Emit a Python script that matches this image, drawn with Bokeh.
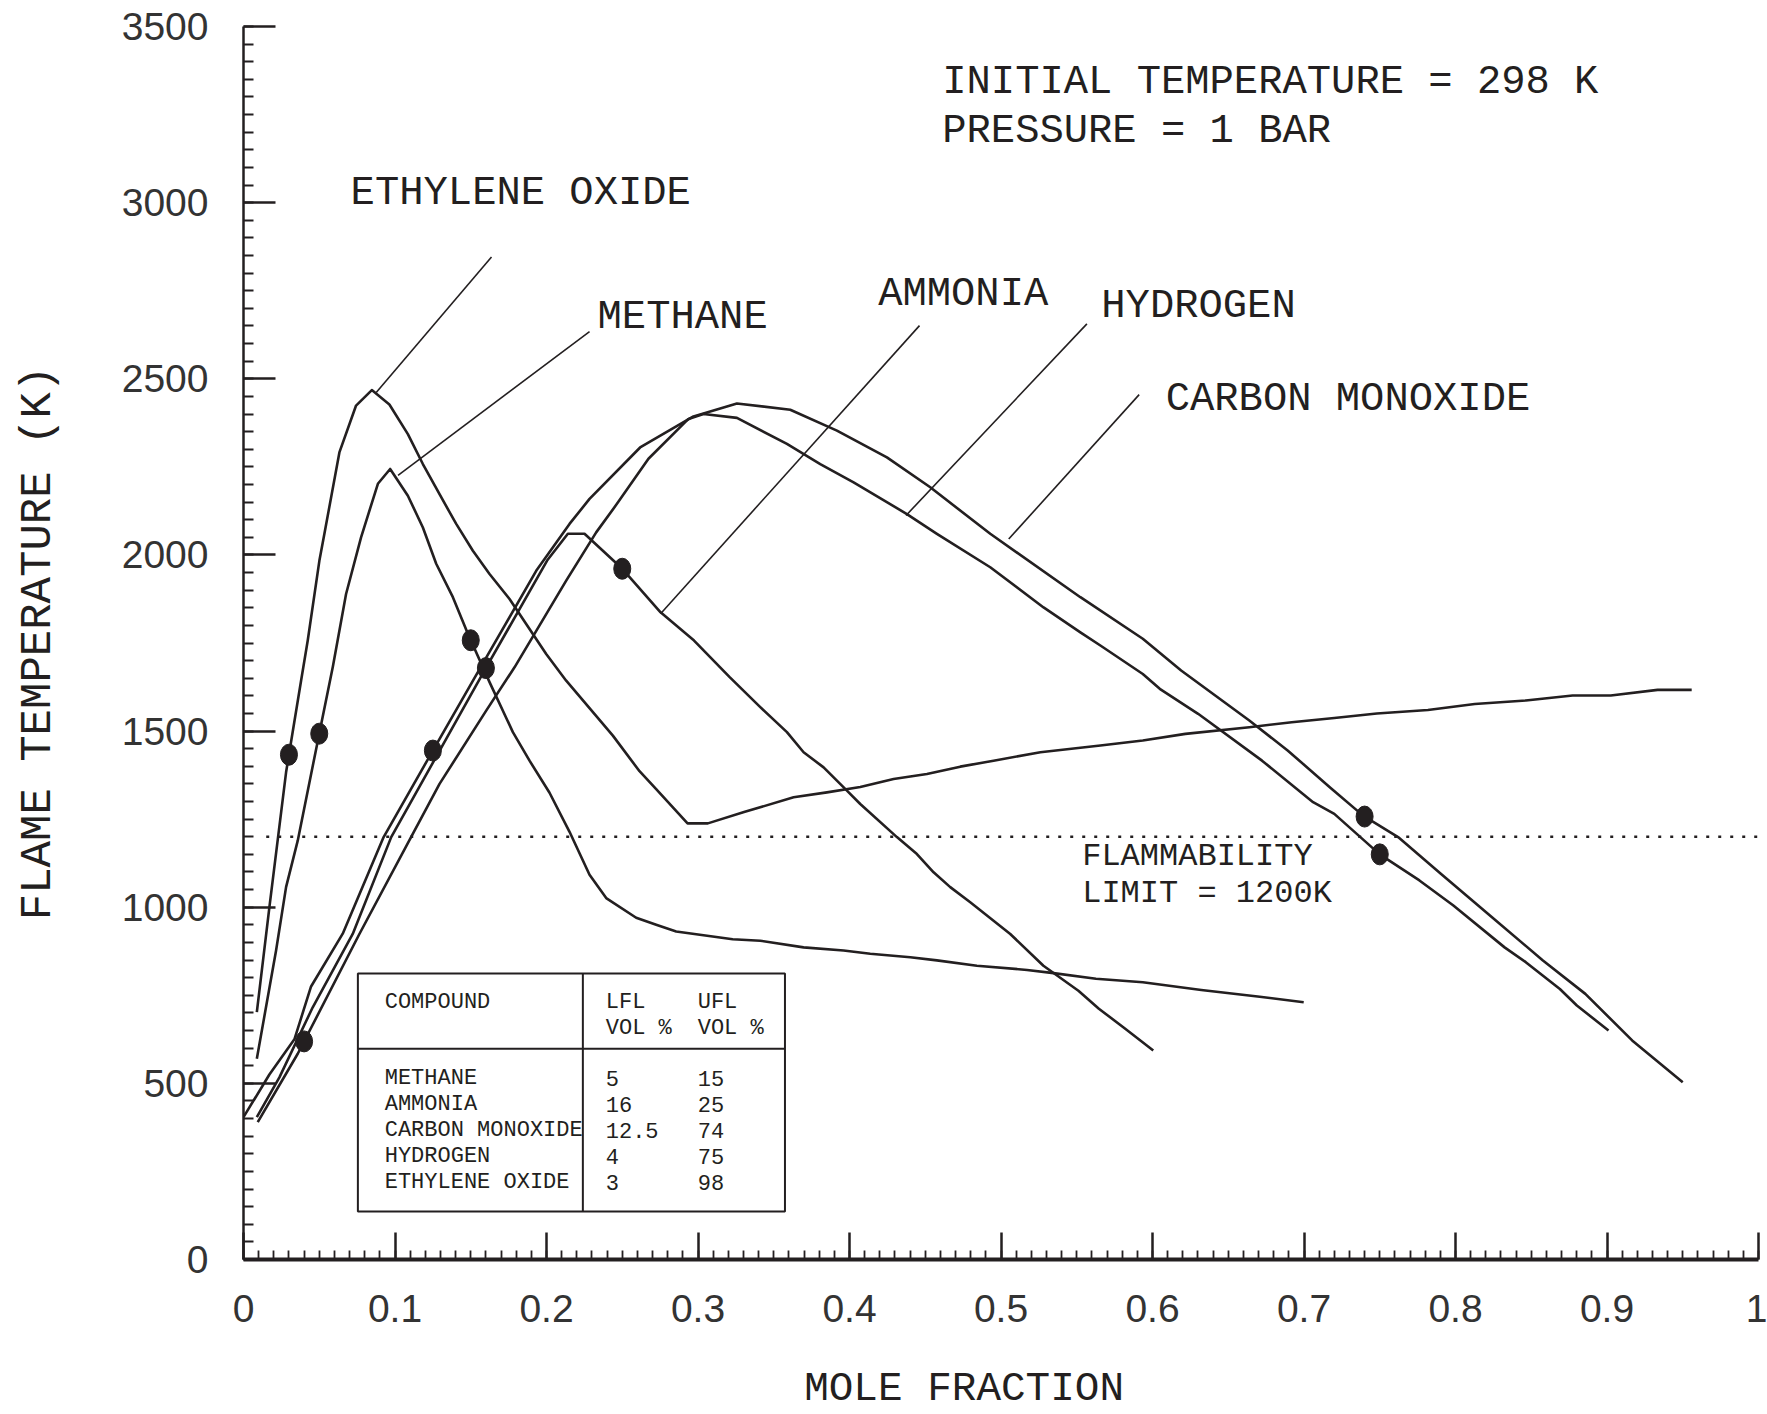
import numpy as np
from bokeh.plotting import figure
from bokeh.models import Range1d, FixedTicker, Label
from bokeh.embed import file_html
from bokeh.resources import INLINE

# ---------------- data ----------------
# mole fraction (x) and adiabatic flame temperature in K (t)
methane_x = [0.0088, 0.0215, 0.0281, 0.0358, 0.0495, 0.0590, 0.0677, 0.0776, 0.0887, 0.0968,
             0.1085, 0.1184, 0.1272, 0.1382, 0.1481, 0.1624, 0.1778, 0.1888, 0.2020, 0.2152,
             0.2284, 0.2394, 0.2592, 0.2724, 0.2856, 0.3229, 0.3411, 0.3697, 0.3961, 0.4137,
             0.4401, 0.4577, 0.4841, 0.5172, 0.5347, 0.5627, 0.5936, 0.6322, 0.6708, 0.6998]
methane_t = [570, 877, 1057, 1189, 1482, 1683, 1889, 2050, 2202, 2244,
             2168, 2078, 1975, 1880, 1776, 1639, 1497, 1416, 1325, 1214,
             1092, 1026, 970, 950, 931, 909, 905, 886, 877, 868,
             858, 849, 834, 822, 813, 797, 787, 765, 746, 730]

ammonia_x = [0.0088, 0.0237, 0.0457, 0.0721, 0.0975, 0.1591, 0.2004, 0.2141, 0.2251, 0.2502,
             0.2753, 0.2974, 0.3209, 0.3411, 0.3587, 0.3697, 0.3829, 0.3983, 0.4071, 0.4313,
             0.4445, 0.4555, 0.4665, 0.4797, 0.5061, 0.5280, 0.5511, 0.5646, 0.5820, 0.6005]
ammonia_t = [404, 517, 716, 924, 1199, 1672, 1984, 2060, 2060, 1960,
             1837, 1757, 1653, 1568, 1497, 1440, 1397, 1331, 1293, 1199,
             1151, 1099, 1057, 1014, 924, 834, 763, 712, 655, 593]

co_x = [0.0000, 0.0171, 0.0336, 0.0446, 0.0655, 0.0925, 0.1265, 0.1580, 0.1932, 0.2152,
        0.2284, 0.2618, 0.2970, 0.3257, 0.3609, 0.3917, 0.4247, 0.4533, 0.4929, 0.5524,
        0.5936, 0.6189, 0.6639, 0.6892, 0.7172, 0.7390, 0.7621, 0.7903, 0.8239, 0.8577,
        0.8857, 0.9166, 0.9500]
co_t = [404, 525, 625, 775, 925, 1199, 1456, 1692, 1955, 2088,
        2159, 2305, 2393, 2430, 2412, 2353, 2277, 2192, 2060, 1880,
        1762, 1672, 1530, 1445, 1340, 1260, 1199, 1095, 972, 849,
        754, 622, 503]

hydrogen_x = [0.0094, 0.0358, 0.0765, 0.1106, 0.1294, 0.1602, 0.1789, 0.2130, 0.2328, 0.2465,
              0.2673, 0.2937, 0.3036, 0.3257, 0.3587, 0.3807, 0.4027, 0.4379, 0.4577, 0.4929,
              0.5281, 0.5524, 0.5656, 0.5936, 0.6048, 0.6301, 0.6723, 0.7060, 0.7200, 0.7500,
              0.7762, 0.7986, 0.8324, 0.8464, 0.8689, 0.8801, 0.9010]
hydrogen_t = [390, 584, 924, 1199, 1350, 1558, 1681, 1927, 2064, 2145,
              2273, 2386, 2400, 2389, 2315, 2258, 2206, 2116, 2060, 1965,
              1851, 1780, 1743, 1662, 1620, 1549, 1416, 1298, 1265, 1150,
              1076, 1005, 886, 844, 768, 721, 650]

eo_x = [0.0088, 0.0171, 0.0281, 0.0380, 0.0424, 0.0501, 0.0534, 0.0633, 0.0743, 0.0847,
        0.0963, 0.1085, 0.1184, 0.1293, 0.1404, 0.1514, 0.1624, 0.1756, 0.1866, 0.1998,
        0.2130, 0.2438, 0.2614, 0.2724, 0.2931, 0.3065, 0.3304, 0.3631, 0.3851, 0.4071,
        0.4291, 0.4511, 0.4731, 0.4951, 0.5260, 0.5656, 0.5936, 0.6217, 0.6639, 0.6919,
        0.7200, 0.7481, 0.7818, 0.8127, 0.8464, 0.8773, 0.9025, 0.9334, 0.9559]
eo_t = [702, 1000, 1383, 1643, 1757, 1984, 2060, 2291, 2424, 2468,
        2427, 2343, 2258, 2173, 2088, 2012, 1946, 1875, 1804, 1719,
        1643, 1487, 1386, 1335, 1238, 1238, 1270, 1312, 1326, 1341,
        1364, 1378, 1399, 1416, 1440, 1459, 1473, 1492, 1511, 1525,
        1537, 1550, 1560, 1577, 1587, 1601, 1601, 1617, 1617]

# flammability table
compounds = ["METHANE", "AMMONIA", "CARBON MONOXIDE", "HYDROGEN", "ETHYLENE OXIDE"]
lfl_vol = [5, 16, 12.5, 4, 3]
ufl_vol = [15, 25, 74, 75, 98]

flammability_limit = 1200  # K

# curve name labels and the points their leader lines join
label_names = ["ETHYLENE OXIDE", "METHANE", "AMMONIA", "HYDROGEN", "CARBON MONOXIDE"]
leader_x0 = [0.1637, 0.2284, 0.4462, 0.5567, 0.5912]
leader_t0 = [2846, 2634, 2651, 2656, 2455]
leader_x1 = [0.0876, 0.1020, 0.2753, 0.4373, 0.5051]
leader_t1 = [2461, 2226, 1833, 2112, 2045]

x_ticks = [0, 0.1, 0.2, 0.3, 0.4, 0.5, 0.6, 0.7, 0.8, 0.9, 1.0]
x_tick_labels = ["0", "0.1", "0.2", "0.3", "0.4", "0.5", "0.6", "0.7", "0.8", "0.9", "1"]
y_ticks = [0, 500, 1000, 1500, 2000, 2500, 3000, 3500]
y_tick_labels = ["0", "500", "1000", "1500", "2000", "2500", "3000", "3500"]

# ---------------- figure ----------------
INK = "#231f20"
MONO = "Liberation Mono"

p = figure(width=1767, height=1414, x_range=Range1d(0, 1), y_range=Range1d(0, 3500),
           output_backend="svg", toolbar_location=None,
           min_border_left=243, min_border_right=9, min_border_top=26, min_border_bottom=155)
p.outline_line_color = None
p.xgrid.visible = False
p.ygrid.visible = False
p.background_fill_color = "white"
p.border_fill_color = "white"

x_minor = [i / 100 for i in range(0, 101)]
y_minor = list(range(0, 3501, 50))
p.xaxis.ticker = FixedTicker(ticks=x_ticks, minor_ticks=x_minor)
p.yaxis.ticker = FixedTicker(ticks=y_ticks, minor_ticks=y_minor)
p.xaxis.major_label_overrides = dict(zip(x_ticks, x_tick_labels))
p.yaxis.major_label_overrides = dict(zip(y_ticks, y_tick_labels))

for ax in (p.xaxis, p.yaxis):
    ax.axis_line_color = INK
    ax.major_tick_line_color = INK
    ax.minor_tick_line_color = INK
    ax.major_tick_out = 0
    ax.minor_tick_out = 0
    ax.major_label_text_font = "Liberation Sans"
    ax.major_label_text_font_size = "39px"
    ax.major_label_text_color = "#333333"
    ax.axis_label_text_font = MONO
    ax.axis_label_text_font_style = "normal"
    ax.axis_label_text_color = INK

p.yaxis.axis_line_width = 2.5
p.yaxis.major_tick_line_width = 2.5
p.yaxis.minor_tick_line_width = 2
p.yaxis.major_tick_in = 32
p.yaxis.minor_tick_in = 10
p.yaxis.major_label_standoff = 35
p.yaxis.axis_label = "FLAME TEMPERATURE (K)"
p.yaxis.axis_label_text_font_size = "44px"
p.yaxis.axis_label_standoff = 56

p.xaxis.axis_line_width = 4
p.xaxis.major_tick_line_width = 2.5
p.xaxis.minor_tick_line_width = 1.8
p.xaxis.major_tick_in = 27
p.xaxis.minor_tick_in = 9
p.xaxis.major_label_standoff = 35
# trailing no-break spaces shift the centred title slightly left, as in the original
p.xaxis.axis_label = "MOLE FRACTION\u00a0\u00a0\u00a0"
p.xaxis.axis_label_text_font_size = "41px"
p.xaxis.axis_label_standoff = 41

# flammability limit dotted line
p.line([0.015, 1.0], [flammability_limit, flammability_limit], line_color=INK,
       line_width=2.5, line_dash="3 9")

# curves
curves = {
    "METHANE": (methane_x, methane_t),
    "AMMONIA": (ammonia_x, ammonia_t),
    "CARBON MONOXIDE": (co_x, co_t),
    "HYDROGEN": (hydrogen_x, hydrogen_t),
    "ETHYLENE OXIDE": (eo_x, eo_t),
}
for name, (xs, ts) in curves.items():
    p.line(xs, ts, line_color=INK, line_width=2.6, line_join="round")

# limit markers on each curve at LFL / UFL
dot_x, dot_y = [], []
for name, lo, hi in zip(compounds, lfl_vol, ufl_vol):
    xs, ts = curves[name]
    for v in (lo, hi):
        fx = v / 100.0
        if xs[0] <= fx <= xs[-1]:
            dot_x.append(fx)
            dot_y.append(float(np.interp(fx, xs, ts)))
p.ellipse(x=dot_x, y=dot_y, width=17, height=21, width_units="screen", height_units="screen",
          fill_color=INK, line_color=INK)

# leader lines
p.segment(x0=leader_x0, y0=leader_t0, x1=leader_x1, y1=leader_t1, line_color=INK, line_width=1.6)

def lab(x, y, text, size):
    p.add_layout(Label(x=x, y=y, text=text, text_font=MONO, text_font_size=size,
                       text_color=INK, text_baseline="middle", text_align="left"))

# curve names
name_pos = {"ETHYLENE OXIDE": (0.0707, 3026), "METHANE": (0.2337, 2674), "AMMONIA": (0.4189, 2742),
            "HYDROGEN": (0.5662, 2706), "CARBON MONOXIDE": (0.6087, 2444)}
for nm in label_names:
    lab(name_pos[nm][0], name_pos[nm][1], nm, "40.5px")

lab(0.4612, 3343, "INITIAL TEMPERATURE = 298 K", "40.5px")
lab(0.4612, 3202, "PRESSURE = 1 BAR", "40.5px")
lab(0.5536, 1145, "FLAMMABILITY", "32px")
lab(0.5536, 1040, "LIMIT = %dK" % flammability_limit, "32px")

# table
p.quad(left=[0.0755], right=[0.3574], bottom=[136], top=[812], fill_color=None,
       line_color=INK, line_width=2)
p.segment(x0=[0.2240, 0.0755], y0=[136, 598], x1=[0.2240, 0.3574], y1=[812, 598],
          line_color=INK, line_width=2)
lab(0.0932, 730, "COMPOUND", "22px")
lab(0.2391, 730, "LFL", "22px")
lab(0.2391, 655, "VOL %", "22px")
lab(0.2998, 730, "UFL", "22px")
lab(0.2998, 655, "VOL %", "22px")
for i, (nm, lo, hi) in enumerate(zip(compounds, lfl_vol, ufl_vol)):
    yy = 513 - i * 73.5
    lab(0.0932, yy, nm, "22px")
    lab(0.2391, yy, f"{lo:g}", "22px")
    lab(0.2998, yy, f"{hi:g}", "22px")

open("out.html", "w").write(file_html(p, INLINE))
